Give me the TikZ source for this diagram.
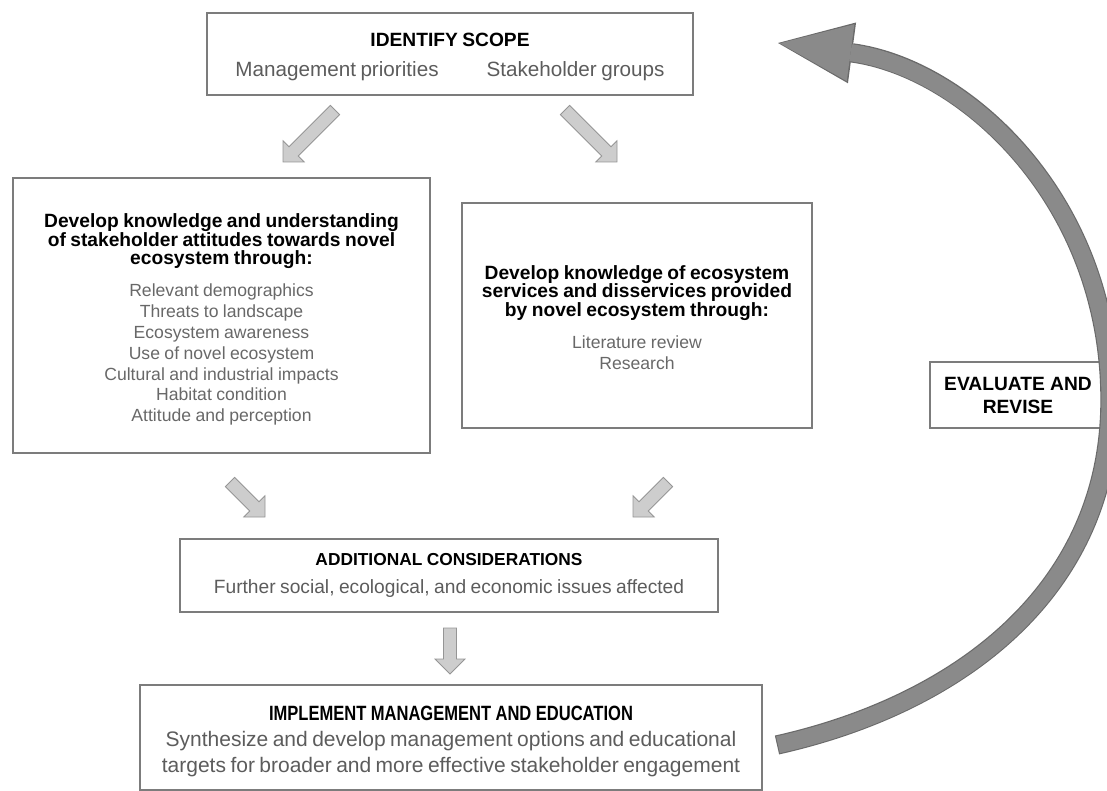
\documentclass[tikz,border=0pt]{standalone}
\usepackage{fontspec}
\setmainfont{Liberation Sans}
\newfontfamily\narrowsans[FakeStretch=0.8]{Liberation Sans}
\usetikzlibrary{calc,arrows.meta}

\definecolor{boxline}{HTML}{7C7C7C}
\definecolor{subgrey}{HTML}{5C5C5C}
\definecolor{listgrey}{HTML}{686868}
\definecolor{arrowfill}{HTML}{CDCDCD}
\definecolor{arrowline}{HTML}{959595}
\definecolor{loopfill}{HTML}{8A8A8A}
\definecolor{loopline}{HTML}{6A6A6A}

\setlength\parindent{0pt}
\lineskiplimit=-100pt

\newcommand\headfont{\bfseries\fontsize{14.4}{14}\selectfont}
\newcommand\listfont{\color{listgrey}\fontsize{13.2}{15.6}\selectfont}

% grey block arrow from #1 to #2
\newcommand\fatarrow[2]{%
  \coordinate (fa-b) at ($(#2)!11.25pt!(#1)$);
  \draw[fatarrow] ($(#1)!4.9pt!90:(#2)$) -- ($(fa-b)!4.9pt!90:(#2)$)
    -- ($(fa-b)!11.25pt!90:(#2)$) -- (#2) -- ($(fa-b)!11.25pt!-90:(#2)$)
    -- ($(fa-b)!4.9pt!-90:(#2)$) -- ($(#1)!4.9pt!-90:(#2)$) -- cycle;}

\begin{document}
\begin{tikzpicture}[x=0.75pt, y=-0.75pt,
    box/.style={draw=boxline, line width=1.1pt},
    boxtext/.style={align=center, inner sep=0pt, text=black},
    fatarrow/.style={fill=arrowfill, draw=arrowline, line width=0.6pt, line join=miter}]
  \useasboundingbox (0,0) rectangle (1107,791);

  % boxes
  \draw[box] (207,13) rectangle (693,95) node[pos=.5, boxtext, text width=350pt, yshift=-2pt] (scope)
    {{\bfseries\fontsize{14.4}{16}\selectfont IDENTIFY SCOPE\par}
     {\color{subgrey}\fontsize{15.5}{22.5}\selectfont Management priorities\hspace{36pt}Stakeholder groups\par}};
  \draw[box] (13,178) rectangle (430,453) node[pos=.5, boxtext, text width=300pt, yshift=-3pt] (attitude)
    {{\headfont Develop knowledge and understanding\\ of stakeholder attitudes towards novel\\ ecosystem through:\par}
     {\listfont\vspace{8.5pt}Relevant demographics\\ Threats to landscape\\ Ecosystem awareness\\ Use of novel ecosystem\\
      Cultural and industrial impacts\\ Habitat condition\\ Attitude and perception\par}};
  \draw[box] (462,203) rectangle (812,428) node[pos=.5, boxtext, text width=250pt, yshift=-1.5pt] (services)
    {{\headfont Develop knowledge of ecosystem\\ services and disservices provided\\ by novel ecosystem through:\par}
     {\listfont\vspace{8.5pt}Literature review\\ Research\par}};
  \draw[box] (180,539) rectangle (718,612) node[pos=.5, boxtext, text width=380pt] (consider)
    {{\bfseries\fontsize{13}{15}\selectfont ADDITIONAL CONSIDERATIONS\par}
     {\color{subgrey}\fontsize{14.4}{21}\selectfont Further social, ecological, and economic issues affected\par}};
  \draw[box] (140,685) rectangle (762,790) node[pos=.5, boxtext, text width=450pt, yshift=-3pt] (implement)
    {{\narrowsans\bfseries\fontsize{15.5}{17}\selectfont IMPLEMENT MANAGEMENT AND EDUCATION\par}
     {\color{subgrey}\fontsize{15.75}{19.2}\selectfont Synthesize and develop management options and educational\\
      targets for broader and more effective stakeholder engagement\par}};
  \draw[box] (930,362) rectangle (1106,428) node[pos=.5, boxtext, font=\bfseries\fontsize{14.4}{17.25}\selectfont] (evaluate)
    {EVALUATE AND\\REVISE};

  % small arrows between the boxes
  \coordinate (a1s) at (335,110);  \coordinate (a1e) at (283,162);
  \coordinate (a2s) at (565,110);  \coordinate (a2e) at (617,162);
  \coordinate (a3s) at (230,482);  \coordinate (a3e) at (265,517);
  \coordinate (a4s) at (668,482);  \coordinate (a4e) at (633,517);
  \coordinate (a5s) at (450,628);  \coordinate (a5e) at (450,674);
  \fatarrow{a1s}{a1e}
  \fatarrow{a2s}{a2e}
  \fatarrow{a3s}{a3e}
  \fatarrow{a4s}{a4e}
  \fatarrow{a5s}{a5e}

  % feedback loop back to the top
  \coordinate (loopout) at (777,745);
  \coordinate (loopin) at (778,43);
  \draw[loopline, line width=14.5pt, -{Triangle[length=56pt, width=46pt, line width=0pt]}]
    (loopout) .. controls (960,704) and (1110,590) .. (1110,400)
    .. controls (1110,200) and (965,68) .. (loopin);
  \draw[loopfill, line width=12.8pt, shorten <=0.8pt, shorten >=1.4pt,
    -{Triangle[length=53.5pt, width=43pt, line width=0pt]}]
    (loopout) .. controls (960,704) and (1110,590) .. (1110,400)
    .. controls (1110,200) and (965,68) .. (loopin);
\end{tikzpicture}
\end{document}
